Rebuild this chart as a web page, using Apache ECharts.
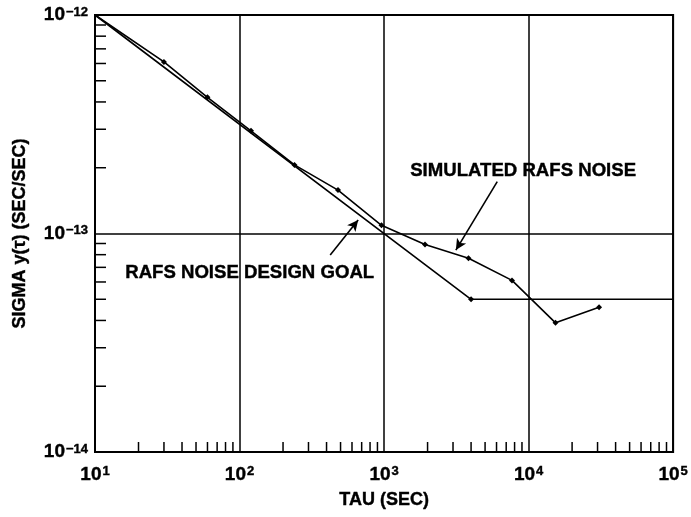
<!DOCTYPE html>
<html>
<head>
<meta charset="utf-8">
<script src="https://cdn.jsdelivr.net/npm/echarts@6/dist/echarts.min.js"></script>
<style>
  html, body { margin: 0; padding: 0; background: #fff; }
  #chart { width: 691px; height: 517px; }
</style>
</head>
<body>
<div id="chart"></div>
<script>
// Averaging time (s) and Allan deviation of the simulated RAFS noise
const tau = [10, 30, 60, 120, 240, 480, 960, 1920, 3840, 7680, 15360, 30720];
const simulatedNoise = [1.0e-12, 6.1e-13, 4.2e-13, 2.95e-13, 2.06e-13, 1.58e-13, 1.09e-13, 8.9e-14, 7.7e-14, 6.1e-14, 3.9e-14, 4.6e-14];

// Design goal: tau^-1/2 slope down to the 5e-14 floor
const goalTau = [10, 4000, 100000];
const goalSigma = [1.0e-12, 5.0e-14, 5.0e-14];

// Axis ranges (decades)
const xDecades = [10, 100, 1000, 10000];
const yDecades = [1e-14, 1e-13];
const minorMultipliers = [2, 3, 4, 5, 6, 7, 8, 9];

// Annotation arrows: [tail, head] in data coordinates
const goalArrow = [[424, 7.98e-14], [662, 1.153e-13]];
const noiseArrow = [[6070, 1.726e-13], [3140, 8.4e-14]];

const FONT = '"Liberation Sans", Arial, Helvetica, sans-serif';
const heavy = { textBorderColor: '#000', textBorderWidth: 0.4 };

const xMinor = [];
xDecades.forEach(d => minorMultipliers.forEach(m => xMinor.push([d * m, 1e-14])));
const yMinor = [];
yDecades.forEach(d => minorMultipliers.forEach(m => yMinor.push([10, d * m])));

function powLabel(v) {
  const e = Math.round(Math.log10(v));
  return '{b|10}{s|' + (e < 0 ? '\u2212' + (-e) : e) + '}';
}
const richLabel = {
  b: Object.assign({ fontSize: 19, fontWeight: 'bold', fontFamily: FONT, color: '#000' }, heavy),
  s: Object.assign({ fontSize: 13, fontWeight: 'bold', fontFamily: FONT, color: '#000', verticalAlign: 'top', padding: [0, 0, 0, 1] }, heavy)
};
const nameStyle = Object.assign({ fontSize: 18, fontWeight: 'bold', fontFamily: FONT, color: '#000' }, heavy);

const chart = echarts.init(document.getElementById('chart'));
chart.setOption({
  animation: false,
  backgroundColor: '#fff',
  grid: {
    left: 95, right: 14, top: 15, bottom: 65,
    show: true, borderColor: '#000', borderWidth: 2, backgroundColor: 'transparent'
  },
  xAxis: {
    type: 'log', logBase: 10, min: 10, max: 100000,
    name: 'TAU (SEC)', nameLocation: 'middle', nameGap: 39,
    nameTextStyle: nameStyle,
    axisLine: { show: true, lineStyle: { color: '#000', width: 2 } },
    axisTick: { show: false },
    splitLine: { show: true, lineStyle: { color: '#000', width: 1.5 } },
    axisLabel: { margin: 13, formatter: powLabel, rich: richLabel }
  },
  yAxis: {
    type: 'log', logBase: 10, min: 1e-14, max: 1e-12,
    name: 'SIGMA y(\u03c4) (SEC/SEC)', nameLocation: 'middle', nameGap: 66,
    nameTextStyle: nameStyle,
    axisLine: { show: true, lineStyle: { color: '#000', width: 2 } },
    axisTick: { show: false },
    splitLine: { show: true, lineStyle: { color: '#000', width: 1.5 } },
    axisLabel: { margin: 7, formatter: powLabel, rich: richLabel }
  },
  series: [
    {
      name: 'RAFS NOISE DESIGN GOAL',
      type: 'line',
      data: goalTau.map((t, i) => [t, goalSigma[i]]),
      symbol: 'diamond',
      symbolSize: (v, p) => (p.dataIndex === 1 ? 6 : 0),
      lineStyle: { color: '#000', width: 1.6 },
      itemStyle: { color: '#000' },
      markLine: {
        silent: true,
        symbol: ['none', 'arrow'],
        symbolSize: [8, 11],
        lineStyle: { color: '#000', width: 1.6, type: 'solid' },
        label: { show: false },
        data: [[{ coord: goalArrow[0] }, { coord: goalArrow[1] }]]
      }
    },
    {
      name: 'SIMULATED RAFS NOISE',
      type: 'line',
      data: tau.map((t, i) => [t, simulatedNoise[i]]),
      symbol: 'diamond',
      symbolSize: (v, p) => (p.dataIndex === 0 ? 0 : 6),
      lineStyle: { color: '#000', width: 1.6 },
      itemStyle: { color: '#000' },
      markLine: {
        silent: true,
        symbol: ['none', 'arrow'],
        symbolSize: [8, 11],
        lineStyle: { color: '#000', width: 1.6, type: 'solid' },
        label: { show: false },
        data: [[{ coord: noiseArrow[0] }, { coord: noiseArrow[1] }]]
      }
    },
    {
      // minor ticks along the bottom axis, pointing up
      type: 'custom',
      silent: true,
      data: xMinor,
      renderItem: (params, api) => {
        const p = api.coord([api.value(0), api.value(1)]);
        return { type: 'line', shape: { x1: p[0], y1: p[1], x2: p[0], y2: p[1] - 10 },
                 style: { stroke: '#000', lineWidth: 1.5 } };
      }
    },
    {
      // minor ticks along the left axis, pointing right
      type: 'custom',
      silent: true,
      data: yMinor,
      renderItem: (params, api) => {
        const p = api.coord([api.value(0), api.value(1)]);
        return { type: 'line', shape: { x1: p[0], y1: p[1], x2: p[0] + 11, y2: p[1] },
                 style: { stroke: '#000', lineWidth: 1.5 } };
      }
    }
  ],
  graphic: [
    { type: 'text', left: 410, top: 161,
      style: Object.assign({ text: 'SIMULATED RAFS NOISE', fontSize: 18.6, fontWeight: 'bold', fontFamily: FONT, fill: '#000', stroke: '#000', lineWidth: 0.4 }) },
    { type: 'text', left: 125, top: 263,
      style: Object.assign({ text: 'RAFS NOISE DESIGN GOAL', fontSize: 18.6, fontWeight: 'bold', fontFamily: FONT, fill: '#000', stroke: '#000', lineWidth: 0.4 }) }
  ]
});
</script>
</body>
</html>
